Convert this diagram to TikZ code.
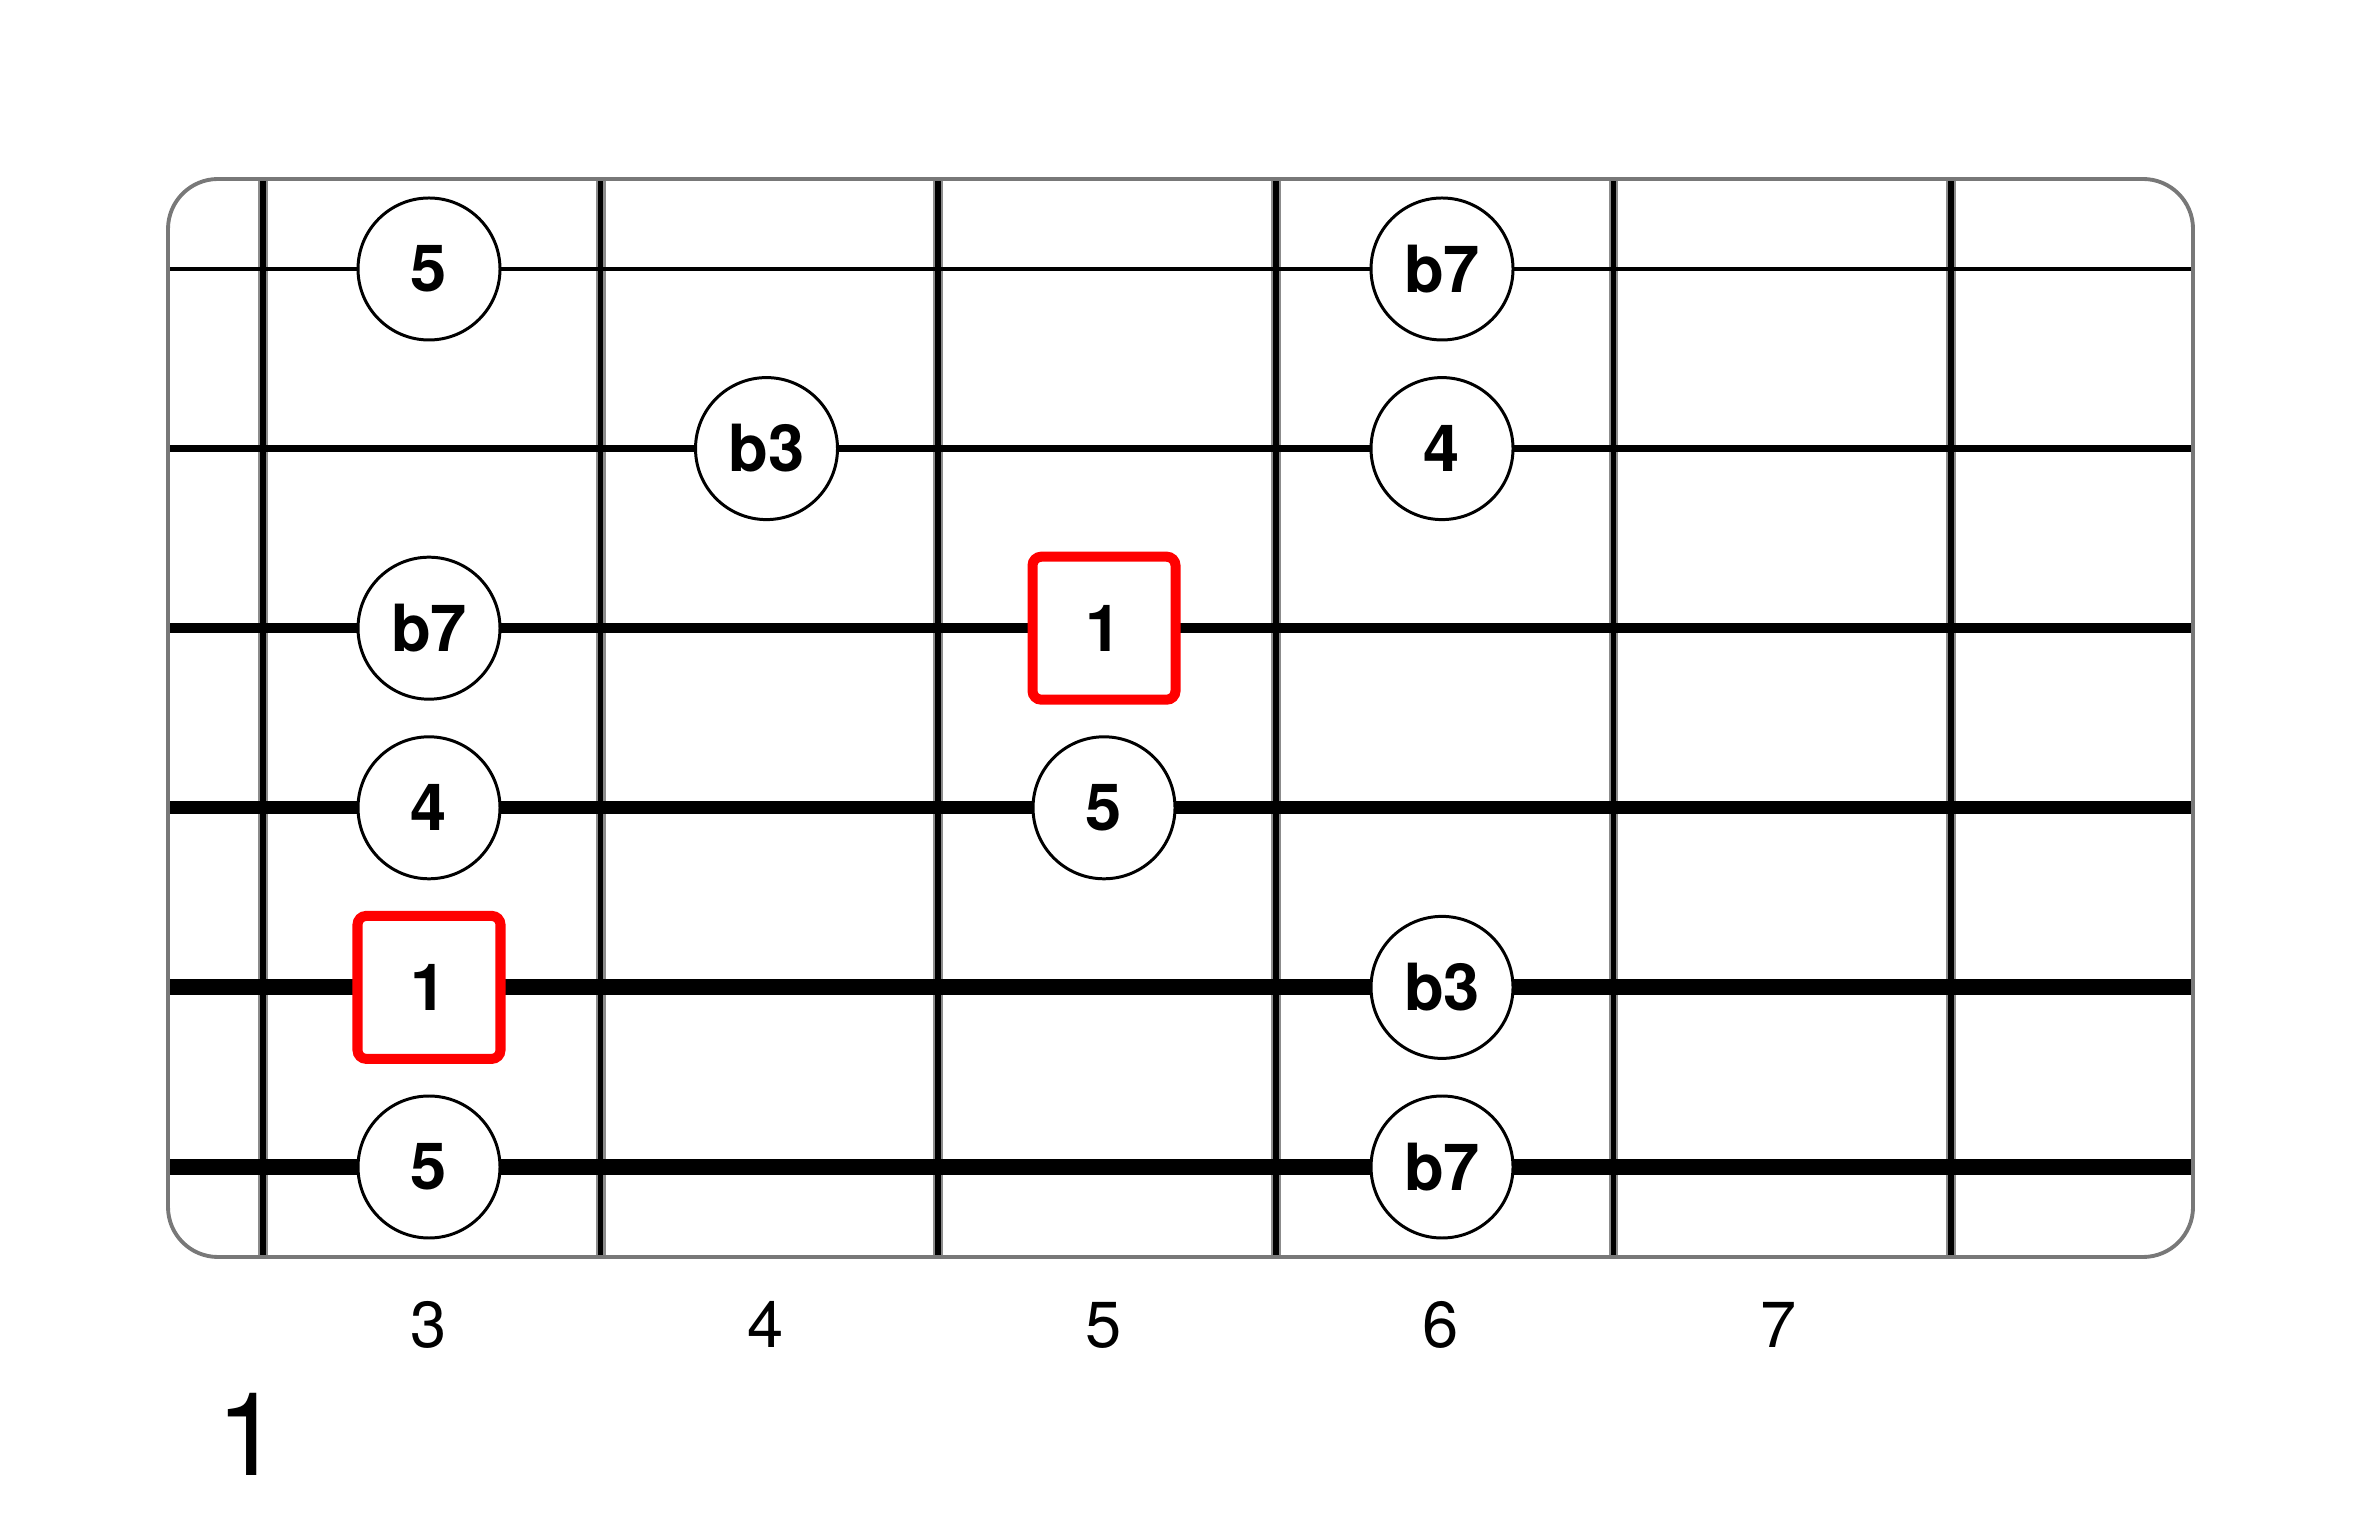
\documentclass[tikz,border=0pt]{standalone}
\usepackage{fontspec}
\setmainfont{TeX Gyre Heros}

\begin{document}
\begin{tikzpicture}[
  note/.style={circle,draw=black,fill=white,line width=0.85pt,minimum size=1.42cm,inner sep=0pt,font=\fontsize{18.5}{20}\selectfont\bfseries},
  root/.style={rectangle,draw=red,fill=white,line width=2.85pt,rounded corners=2.5pt,minimum size=1.43cm,inner sep=0pt,font=\fontsize{18.5}{20}\selectfont\bfseries},
  fretno/.style={anchor=base,font=\fontsize{18.5}{20}\selectfont},
  fretwire/.style={black,line width=1.6pt,preaction={draw,black!45,line width=2.8pt}}
]

\useasboundingbox (0,0) rectangle (23.62,15.24);

\coordinate (TL) at (1.68,13.45);
\coordinate (BR) at (21.93,2.67);

% frets
\draw[fretwire] (2.63,2.67)--(2.63,13.45);
\draw[fretwire] (6.006,2.67)--(6.006,13.45);
\draw[fretwire] (9.382,2.67)--(9.382,13.45);
\draw[fretwire] (12.758,2.67)--(12.758,13.45);
\draw[fretwire] (16.134,2.67)--(16.134,13.45);
\draw[fretwire] (19.51,2.67)--(19.51,13.45);

% strings
\draw[black,line width=1.4pt] (1.68,12.55)--(21.93,12.55);
\draw[black,line width=2pt] (1.68,10.754)--(21.93,10.754);
\draw[black,line width=2.85pt] (1.68,8.958)--(21.93,8.958);
\draw[black,line width=3.7pt] (1.68,7.162)--(21.93,7.162);
\draw[black,line width=4.6pt] (1.68,5.366)--(21.93,5.366);
\draw[black,line width=4.7pt] (1.68,3.57)--(21.93,3.57);

\draw[black!53,line width=1.1pt,rounded corners=0.5cm] (TL) rectangle (BR);

% notes
\node[note] (s1f3) at (4.29,12.55) {5};
\node[note] (s1f6) at (14.42,12.55) {b7};
\node[note] (s2f4) at (7.665,10.754) {b3};
\node[note] (s2f6) at (14.42,10.754) {4};
\node[note] (s3f3) at (4.29,8.958) {b7};
\node[root] (s3f5) at (11.04,8.958) {1};
\node[note] (s4f3) at (4.29,7.162) {4};
\node[note] (s4f5) at (11.04,7.162) {5};
\node[root] (s5f3) at (4.29,5.366) {1};
\node[note] (s5f6) at (14.42,5.366) {b3};
\node[note] (s6f3) at (4.29,3.57) {5};
\node[note] (s6f6) at (14.42,3.57) {b7};

% fret numbers
\node[fretno] (fn3) at (4.285,1.77) {3};
\node[fretno] (fn4) at (7.66,1.77) {4};
\node[fretno] (fn5) at (11.035,1.77) {5};
\node[fretno] (fn6) at (14.41,1.77) {6};
\node[fretno] (fn7) at (17.79,1.77) {7};

\node[anchor=base,font=\fontsize{33}{36}\selectfont] (shapeno) at (2.49,0.49) {1};

\end{tikzpicture}
\end{document}
